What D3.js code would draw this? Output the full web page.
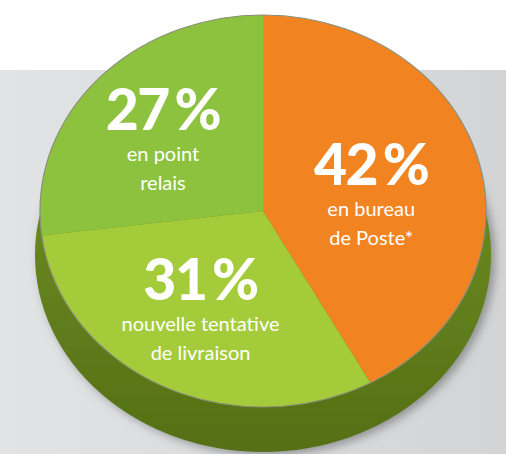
<!DOCTYPE html>
<html>
<head>
<meta charset="utf-8">
<script src="https://cdn.jsdelivr.net/npm/d3@7"></script>
<style>
  body { margin: 0; background: #fff; }
  svg { display: block; }
</style>
</head>
<body>
<div class="chart"></div>
<script>
const width = 506;
const height = 454;

// Data
const labels = ["42\u2009%", "31\u2009%", "27\u2009%"];
const values = [42, 31, 27];
const captions = [["en bureau", "de Poste*"], ["nouvelle tentative", "de livraison"], ["en point", "relais"]];
const colors = ["#f18421", "#a4cc3a", "#8dc23f"];
// small nudges so the labels sit where they sit in the original
const nudges = [[-8, 11], [-8, 6], [-10, 0]];

const cx = 263, cy = 211;
const rx = 223, ry = 196;
const depth = 44;
const squash = ry / rx;

const svg = d3.select(".chart").append("svg")
    .attr("width", width)
    .attr("height", height);

const defs = svg.append("defs");

const bg = defs.append("linearGradient").attr("id", "bg")
    .attr("x1", "0%").attr("x2", "100%").attr("y1", "0%").attr("y2", "0%");
bg.append("stop").attr("offset", "0%").attr("stop-color", "#e2e3e5");
bg.append("stop").attr("offset", "100%").attr("stop-color", "#d3d4d6");

const side = defs.append("linearGradient").attr("id", "side")
    .attr("x1", "0%").attr("x2", "0%").attr("y1", "0%").attr("y2", "100%");
side.append("stop").attr("offset", "0%").attr("stop-color", "#739322");
side.append("stop").attr("offset", "60%").attr("stop-color", "#62801c");
side.append("stop").attr("offset", "100%").attr("stop-color", "#556f16");

const shadow = defs.append("filter").attr("id", "shadow")
    .attr("x", "-20%").attr("y", "-20%").attr("width", "140%").attr("height", "140%");
shadow.append("feDropShadow")
    .attr("dx", 4).attr("dy", 3).attr("stdDeviation", 5)
    .attr("flood-color", "#555").attr("flood-opacity", 0.55);

// background: white strip, then grey panel
svg.append("rect").attr("width", width).attr("height", height).attr("fill", "#fff");
svg.append("rect").attr("y", 70).attr("width", width).attr("height", height - 70).attr("fill", "url(#bg)");

// side of the disc
svg.append("ellipse")
    .attr("cx", cx).attr("cy", cy + depth)
    .attr("rx", rx + 5).attr("ry", ry + 1)
    .attr("fill", "url(#side)")
    .attr("filter", "url(#shadow)");

// top face
const pie = d3.pie().sort(null).value(d => d);
const arcs = pie(values);

const arc = d3.arc().innerRadius(0).outerRadius(rx);
const labelArc = d3.arc().innerRadius(120).outerRadius(120);

const face = svg.append("g")
    .attr("transform", `translate(${cx},${cy}) scale(1,${squash})`);

face.selectAll("path.slice")
    .data(arcs)
    .enter()
    .append("path")
    .attr("class", "slice")
    .attr("d", arc)
    .attr("fill", (d, i) => colors[i]);

face.append("circle")
    .attr("r", rx)
    .attr("fill", "none")
    .attr("stroke", "#8a8f7a")
    .attr("stroke-width", 1.2)
    .attr("vector-effect", "non-scaling-stroke");

// labels
const lab = svg.selectAll("g.label")
    .data(arcs)
    .enter()
    .append("g")
    .attr("class", "label")
    .attr("transform", (d, i) => {
        const c = labelArc.centroid(d);
        return `translate(${cx + c[0] + nudges[i][0]},${cy + c[1] * squash + nudges[i][1]})`;
    })
    .attr("fill", "#fff")
    .attr("text-anchor", "middle");

lab.append("text")
    .attr("y", -11)
    .attr("font-family", "Lato, sans-serif")
    .attr("font-weight", 900)
    .attr("font-size", 57)
    .attr("letter-spacing", -1.5)
    .text((d, i) => labels[i]);

lab.each(function(d, i) {
    d3.select(this).selectAll("text.cap")
        .data(captions[i])
        .enter()
        .append("text")
        .attr("class", "cap")
        .attr("y", (t, j) => 20 + j * 29)
        .attr("font-family", "Lato, sans-serif")
        .attr("font-size", 20)
        .text(t => t);
});
</script>
</body>
</html>
